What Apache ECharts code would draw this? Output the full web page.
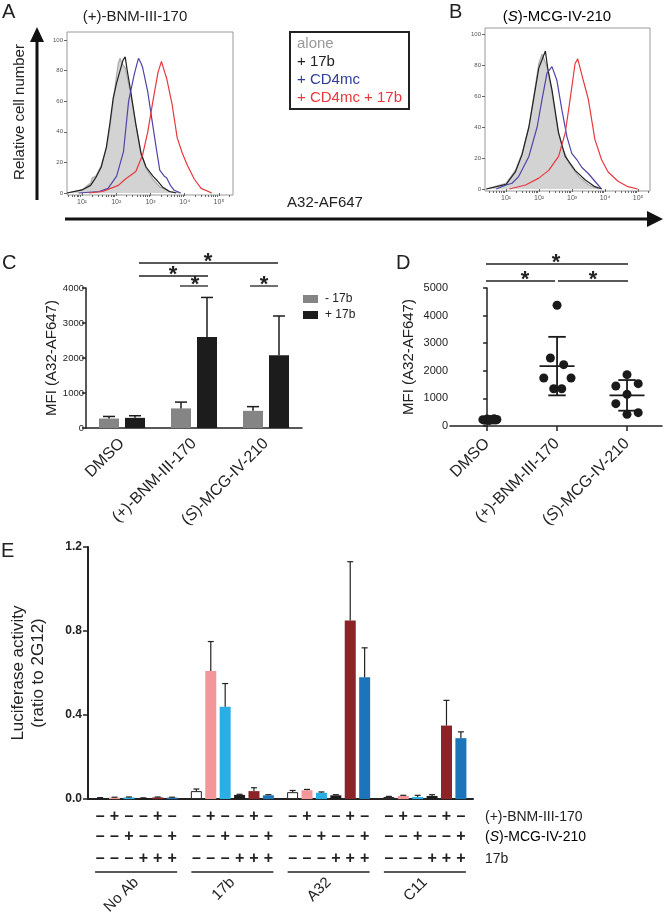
<!DOCTYPE html>
<html><head><meta charset="utf-8">
<script src="https://cdn.jsdelivr.net/npm/echarts@6/dist/echarts.min.js"></script>
<style>html,body{margin:0;padding:0;background:#fff}#c{width:665px;height:917px}</style>
</head><body><div id="c"></div>
<script>
// ---------------- DATA ----------------
// Panel A/B histograms: [log10(A32-AF647), relative cell number %]
const histA_alone = [[0.56,0],[1.0,2],[1.25,6.5],[1.3,10],[1.4,11],[1.56,18],[1.71,29],[1.81,42],[1.91,60],[2.01,77],[2.06,85],[2.11,88],[2.18,84],[2.26,82],[2.41,66],[2.57,45],[2.72,27],[2.87,16],[3.07,9],[3.27,4],[3.58,1],[3.88,0]];
const histA_17b = [[0.56,0],[1.0,2],[1.25,5],[1.4,10],[1.56,17],[1.71,30],[1.81,45],[1.91,62],[2.01,72],[2.11,80],[2.2,87],[2.26,89],[2.32,80],[2.41,68],[2.57,45],[2.72,26],[2.87,17],[3.07,11],[3.2,8],[3.35,4],[3.55,1],[3.75,0]];
const histA_cd4 = [[0.9,0],[1.5,1],[1.76,3],[2.01,11],[2.21,27],[2.36,60],[2.52,77],[2.6,84],[2.65,88],[2.72,85],[2.77,82],[2.92,66],[3.02,51],[3.17,29],[3.27,15],[3.4,11],[3.47,10],[3.58,5],[3.68,2],[3.88,0]];
const histA_cd4_17b = [[1.2,0],[1.6,1],[2.06,5],[2.26,9],[2.57,14],[2.77,25],[2.92,40],[3.07,60],[3.22,79],[3.32,86],[3.4,80],[3.47,75],[3.63,58],[3.78,36],[3.93,26],[4.08,18],[4.28,9],[4.48,3],[4.79,0]];
const histB_alone = [[0.4,0],[1.0,3.7],[1.28,12],[1.48,23],[1.69,40],[1.84,60],[1.99,81],[2.09,87],[2.14,88],[2.24,79],[2.39,62],[2.55,40],[2.7,27],[2.9,17],[3.2,8],[3.5,2.6],[3.8,0]];
const histB_17b = [[0.4,0],[1.0,3],[1.28,11],[1.48,22],[1.69,40],[1.84,59],[1.99,78],[2.1,84],[2.19,89],[2.26,78],[2.39,64],[2.59,36],[2.79,21],[3.09,12],[3.39,6],[3.69,1.5],[3.9,0]];
const histB_cd4 = [[0.7,0],[1.0,2.6],[1.18,3.7],[1.38,8],[1.69,21],[1.94,40],[2.09,58],[2.24,75],[2.39,79],[2.44,80],[2.54,70],[2.69,51],[2.84,34],[2.99,23],[3.14,19],[3.29,14],[3.49,10],[3.69,5],[3.89,0]];
const histB_cd4_17b = [[1.1,0],[1.59,2.6],[1.99,7],[2.29,12],[2.59,21],[2.79,36],[2.94,58],[3.09,81],[3.17,84],[3.34,70],[3.49,58],[3.69,32],[3.89,19],[4.09,11],[4.39,5],[4.69,1.5],[4.99,0]];
const histTicksY = [0, 20, 40, 60, 80, 100];
const histDecades = [1, 2, 3, 4, 5];

// Panel C: MFI bars (mean, SD)
const cCats = ['DMSO', '(+)-BNM-III-170', '(S)-MCG-IV-210'];
const cMinus17b = [270, 560, 490];
const cMinus17bSD = [60, 180, 120];
const cPlus17b = [290, 2600, 2080];
const cPlus17bSD = [60, 1130, 1120];

// Panel D: individual MFI points (value, horizontal jitter)
const dCats = ['DMSO', '(+)-BNM-III-170', '(S)-MCG-IV-210'];
const dDmso = [230, 210, 250, 200, 240, 220, 260, 215, 235];
const dDmsoJit = [-0.06, -0.03, 0.0, 0.03, 0.05, 0.08, 0.1, 0.12, 0.14];
const dBnm = [4373, 2464, 2223, 1740, 1740, 1350, 1350];
const dBnmJit = [0, -0.095, 0.095, -0.19, 0.2, -0.048, 0.067];
const dMcg = [1860, 1450, 1534, 1148, 809, 423, 483];
const dMcgJit = [0, -0.16, 0.16, 0, -0.16, 0, 0.16];
const dMean = [230, 2170, 1110];
const dSD = [20, 1060, 555];

// Panel E: luciferase activity (mean, SD)
const eGroups = ['No Ab', '17b', 'A32', 'C11'];
const eNone = [0.005, 0.038, 0.033, 0.010];
const eBnm = [0.007, 0.61, 0.042, 0.015];
const eMcg = [0.008, 0.44, 0.030, 0.010];
const e17b = [0.005, 0.020, 0.018, 0.015];
const eBnm17b = [0.008, 0.038, 0.85, 0.35];
const eMcg17b = [0.007, 0.018, 0.58, 0.29];
const eNoneSD = [0.002, 0.010, 0.008, 0.003];
const eBnmSD = [0.002, 0.14, 0.004, 0.003];
const eMcgSD = [0.002, 0.11, 0.004, 0.008];
const e17bSD = [0.001, 0.003, 0.003, 0.006];
const eBnm17bSD = [0.002, 0.016, 0.28, 0.12];
const eMcg17bSD = [0.002, 0.003, 0.14, 0.03];
const eRowBnm = ['–', '+', '–', '–', '+', '–'];
const eRowMcg = ['–', '–', '+', '–', '–', '+'];
const eRow17b = ['–', '–', '–', '+', '+', '+'];

// ---------------- CHART ----------------
const FONT = '"Liberation Sans", Arial, Helvetica, sans-serif';
const chart = echarts.init(document.getElementById('c'), null, {renderer: 'canvas', width: 665, height: 917});
const sup = {1: '¹', 2: '²', 3: '³', 4: '⁴', 5: '⁵'};
function minorLog(min, max) {
  const out = [];
  for (let d = 0; d <= 5; d++) for (let k = 2; k <= 9; k++) {
    const v = d + Math.log10(k);
    if (v > min && v < max) out.push(v);
  }
  return out;
}
const AX = {min: 0.56, max: 5.41};
const BX = {min: 0.36, max: 5.36};

function histX(gi, r) {
  return [{
    type: 'value', gridIndex: gi, min: r.min, max: r.max, position: 'bottom',
    axisLine: {show: false}, splitLine: {show: false},
    axisTick: {show: true, length: 3, customValues: histDecades, lineStyle: {color: '#666', width: 1}},
    axisLabel: {customValues: histDecades, formatter: v => '10' + sup[v], fontSize: 7, color: '#555', margin: 4, fontFamily: FONT}
  }, {
    type: 'value', gridIndex: gi, min: r.min, max: r.max, position: 'bottom',
    axisLine: {show: false}, splitLine: {show: false},
    axisTick: {show: true, length: 2, customValues: minorLog(r.min, r.max), lineStyle: {color: '#666', width: 1}},
    axisLabel: {show: false}
  }];
}
function histY(gi, min, max) {
  return {
    type: 'value', gridIndex: gi, min, max,
    axisLine: {show: false}, splitLine: {show: false},
    axisTick: {show: true, length: 3, customValues: histTicksY, lineStyle: {color: '#666'}},
    axisLabel: {customValues: histTicksY, fontSize: 6, color: '#555', margin: 4, fontFamily: FONT}
  };
}
function hist(name, data, color, xi, yi, area) {
  const s = {type: 'line', name, xAxisIndex: xi, yAxisIndex: yi, data, symbol: 'none', showSymbol: false,
    lineStyle: {color, width: 1.2}, itemStyle: {color}, z: area ? 1 : 2, silent: true};
  if (area) s.areaStyle = {color: '#d3d3d3', opacity: 1};
  return s;
}
const catRich = {
  n: {fontSize: 16, fontFamily: FONT, color: '#222'},
  i: {fontSize: 16, fontFamily: FONT, fontStyle: 'italic', color: '#222'}
};
function catFmt(v) {
  if (v === '(S)-MCG-IV-210') return '{n|(}{i|S}{n|)-MCG-IV-210}';
  return '{n|' + v + '}';
}
const blackAxis = {lineStyle: {color: '#222', width: 1.5}};

// C error data
const cErr = [];
cCats.forEach((c, i) => { cErr.push([i, 0, cMinus17b[i], cMinus17bSD[i]]); cErr.push([i, 1, cPlus17b[i], cPlus17bSD[i]]); });
// D scatter data
const dPts = [];
dDmso.forEach((v, i) => dPts.push([0 + dDmsoJit[i], v]));
dBnm.forEach((v, i) => dPts.push([1 + dBnmJit[i], v]));
dMcg.forEach((v, i) => dPts.push([2 + dMcgJit[i], v]));
const dStats = [[1, dMean[1], dSD[1]], [2, dMean[2], dSD[2]]];
// E
const eSeries = [eNone, eBnm, eMcg, e17b, eBnm17b, eMcg17b];
const eSDs = [eNoneSD, eBnmSD, eMcgSD, e17bSD, eBnm17bSD, eMcg17bSD];
const eColors = ['#ffffff', '#f3969a', '#2aaee3', '#1c1c1c', '#8b2328', '#1c74bb'];
const eErr = [];
eSeries.forEach((s, k) => s.forEach((v, g) => eErr.push([g, k, v, eSDs[k][g]])));
const eRows = [];
eGroups.forEach((g, gi) => { for (let b = 0; b < 6; b++) eRows.push([gi, b]); });

const series = [
  hist('alone', histA_alone, '#aaaaaa', 0, 0, true),
  hist('+ 17b', histA_17b, '#222222', 0, 0),
  hist('+ CD4mc', histA_cd4, '#4f44a6', 0, 0),
  hist('+ CD4mc + 17b', histA_cd4_17b, '#e8383e', 0, 0),
  hist('alone', histB_alone, '#aaaaaa', 2, 1, true),
  hist('+ 17b', histB_17b, '#222222', 2, 1),
  hist('+ CD4mc', histB_cd4, '#4f44a6', 2, 1),
  hist('+ CD4mc + 17b', histB_cd4_17b, '#e8383e', 2, 1),
  {type: 'bar', name: '- 17b', xAxisIndex: 4, yAxisIndex: 2, data: cMinus17b, barWidth: 20, barGap: '30%', itemStyle: {color: '#858585'}},
  {type: 'bar', name: '+ 17b ', xAxisIndex: 4, yAxisIndex: 2, data: cPlus17b, barWidth: 20, barGap: '30%', itemStyle: {color: '#1c1c1c'}},
  {type: 'custom', xAxisIndex: 4, yAxisIndex: 2, data: cErr, encode: {x: 0, y: 2}, clip: false, z: 3,
    renderItem: (p, api) => {
      const cat = api.value(0), k = api.value(1), m = api.value(2), sd = api.value(3);
      const a = api.coord([cat, m]), b = api.coord([cat, m + sd]);
      const x = a[0] + (k - 0.5) * 26;
      return {type: 'group', children: [
        {type: 'line', shape: {x1: x, y1: a[1], x2: x, y2: b[1]}, style: {stroke: '#1c1c1c', lineWidth: 1.5}},
        {type: 'line', shape: {x1: x - 6, y1: b[1], x2: x + 6, y2: b[1]}, style: {stroke: '#1c1c1c', lineWidth: 1.5}}
      ]};
    }},
  {type: 'scatter', xAxisIndex: 5, yAxisIndex: 3, data: dPts, symbolSize: 9, itemStyle: {color: '#1a1a1a', opacity: 1}, z: 3},
  {type: 'custom', xAxisIndex: 5, yAxisIndex: 3, data: dStats, encode: {x: 0, y: 1}, clip: false, z: 4,
    renderItem: (p, api) => {
      const c = api.value(0), m = api.value(1), sd = api.value(2);
      const pm = api.coord([c, m]), pt = api.coord([c, m + sd]), pb = api.coord([c, m - sd]);
      const wl = api.coord([c - 0.25, m])[0], wr = api.coord([c + 0.25, m])[0];
      const cl = api.coord([c - 0.125, m])[0], cr = api.coord([c + 0.125, m])[0];
      const st = {stroke: '#1a1a1a', lineWidth: 1.8};
      return {type: 'group', children: [
        {type: 'line', shape: {x1: pm[0], y1: pt[1], x2: pm[0], y2: pb[1]}, style: st},
        {type: 'line', shape: {x1: wl, y1: pm[1], x2: wr, y2: pm[1]}, style: st},
        {type: 'line', shape: {x1: cl, y1: pt[1], x2: cr, y2: pt[1]}, style: st},
        {type: 'line', shape: {x1: cl, y1: pb[1], x2: cr, y2: pb[1]}, style: st}
      ]};
    }}
];
eSeries.forEach((s, k) => series.push({
  type: 'bar', xAxisIndex: 6, yAxisIndex: 4, data: s, barWidth: 11, barGap: '31%',
  itemStyle: {color: eColors[k], borderColor: k === 0 ? '#222' : eColors[k], borderWidth: k === 0 ? 1 : 0}
}));
series.push({type: 'custom', xAxisIndex: 6, yAxisIndex: 4, data: eErr, encode: {x: 0, y: 2}, clip: false, z: 4,
  renderItem: (p, api) => {
    const g = api.value(0), k = api.value(1), m = api.value(2), sd = api.value(3);
    const a = api.coord([g, m]), b = api.coord([g, m + sd]);
    const x = a[0] + (k - 2.5) * 14.4;
    return {type: 'group', children: [
      {type: 'line', shape: {x1: x, y1: a[1], x2: x, y2: b[1]}, style: {stroke: '#222', lineWidth: 1.2}},
      {type: 'line', shape: {x1: x - 3, y1: b[1], x2: x + 3, y2: b[1]}, style: {stroke: '#222', lineWidth: 1.2}}
    ]};
  }});
series.push({type: 'custom', xAxisIndex: 6, yAxisIndex: 4, data: eRows, encode: {x: 0, y: 1}, clip: false, z: 4, silent: true,
  renderItem: (p, api) => {
    const g = api.value(0), b = api.value(1);
    const c = api.coord([g, 0]);
    const x = c[0] + (b - 2.5) * 14.4;
    const f = 'bold 16px ' + FONT;
    const ch = [
      {type: 'text', x, y: 817, style: {text: eRowBnm[b], font: f, fill: '#222', align: 'center', verticalAlign: 'middle'}},
      {type: 'text', x, y: 837, style: {text: eRowMcg[b], font: f, fill: '#222', align: 'center', verticalAlign: 'middle'}},
      {type: 'text', x, y: 859, style: {text: eRow17b[b], font: f, fill: '#222', align: 'center', verticalAlign: 'middle'}}
    ];
    if (b === 0) ch.push({type: 'line', shape: {x1: c[0] - 41, y1: 872, x2: c[0] + 41, y2: 872}, style: {stroke: '#222', lineWidth: 1.5}});
    return {type: 'group', children: ch};
  }});

// annotations
function sig(x1, x2, y, xs) {
  return [
    {type: 'line', shape: {x1, y1: y, x2, y2: y}, style: {stroke: '#222', lineWidth: 1.3}},
    {type: 'text', x: xs, y: y - 12, style: {text: '*', font: 'bold 22px ' + FONT, fill: '#222', align: 'center', verticalAlign: 'top'}}
  ];
}
function label(text, x, y, size, color) {
  return {type: 'text', x, y, style: {text, font: size + 'px ' + FONT, fill: color || '#222', align: 'left', verticalAlign: 'top'}};
}
const elements = [
  label('A', 2, 2, 20), label('B', 449, 2, 20), label('C', 2, 253, 20), label('D', 396, 253, 20), label('E', 1, 541, 20),
  {type: 'text', x: 135, y: 17, style: {text: '(+)-BNM-III-170', font: '15px ' + FONT, fill: '#222', align: 'center', verticalAlign: 'middle'}},
  {type: 'text', x: 557, y: 17, style: {text: '{n|(}{i|S}{n|)-MCG-IV-210}', rich: {n: {fontSize: 15, fontFamily: FONT, color: '#222'}, i: {fontSize: 15, fontFamily: FONT, fontStyle: 'italic', color: '#222'}}, align: 'center', verticalAlign: 'middle'}},
  {type: 'line', shape: {x1: 37, y1: 200, x2: 37, y2: 40}, style: {stroke: '#111', lineWidth: 3}},
  {type: 'polygon', shape: {points: [[30, 42], [44, 42], [37, 27]]}, style: {fill: '#111'}},
  {type: 'text', x: 20, y: 112, rotation: Math.PI / 2, style: {text: 'Relative cell number', font: '15px ' + FONT, fill: '#222', align: 'center', verticalAlign: 'middle'}},
  {type: 'line', shape: {x1: 65, y1: 219, x2: 650, y2: 219}, style: {stroke: '#111', lineWidth: 3}},
  {type: 'polygon', shape: {points: [[647, 211], [647, 227], [663, 219]]}, style: {fill: '#111'}},
  {type: 'text', x: 325, y: 203, style: {text: 'A32-AF647', font: '15px ' + FONT, fill: '#222', align: 'center', verticalAlign: 'middle'}},
  {type: 'rect', shape: {x: 290, y: 32, width: 119, height: 77}, style: {fill: '#fff', stroke: '#222', lineWidth: 2}},
  label('alone', 297, 36, 15, '#999'),
  label('+ 17b', 297, 54, 15),
  label('+ CD4mc', 297, 72, 15, '#2f3d96'),
  label('+ CD4mc + 17b', 297, 90, 15, '#e8383e'),
  // C legend
  {type: 'rect', shape: {x: 303, y: 295, width: 15, height: 8}, style: {fill: '#858585'}},
  {type: 'rect', shape: {x: 303, y: 311, width: 15, height: 8}, style: {fill: '#1c1c1c'}},
  {type: 'text', x: 325, y: 299, style: {text: '- 17b', font: '12px ' + FONT, fill: '#222', verticalAlign: 'middle'}},
  {type: 'text', x: 325, y: 315, style: {text: '+ 17b', font: '12px ' + FONT, fill: '#222', verticalAlign: 'middle'}},
  ...sig(139, 278, 263, 208), ...sig(139, 208, 276, 173), ...sig(180, 208, 286, 195), ...sig(250, 278, 286, 264),
  ...sig(486, 628, 264, 556), ...sig(486, 555, 281, 525), ...sig(558, 628, 281, 593),
  // E row labels
  {type: 'text', x: 485, y: 817, style: {text: '(+)-BNM-III-170', font: '14px ' + FONT, fill: '#222', verticalAlign: 'middle'}},
  {type: 'text', x: 485, y: 837, style: {text: '{n|(}{i|S}{n|)-MCG-IV-210}', rich: {n: {fontSize: 14, fontFamily: FONT, color: '#222'}, i: {fontSize: 14, fontFamily: FONT, fontStyle: 'italic', color: '#222'}}, verticalAlign: 'middle'}},
  {type: 'text', x: 485, y: 859, style: {text: '17b', font: '14px ' + FONT, fill: '#222', verticalAlign: 'middle'}}
];

const option = {
  animation: false,
  backgroundColor: '#fff',
  textStyle: {fontFamily: FONT},
  grid: [
    {left: 67, top: 32, width: 166, height: 163, show: true, borderColor: '#999', borderWidth: 1, backgroundColor: 'transparent'},
    {left: 485, top: 28, width: 165, height: 163, show: true, borderColor: '#999', borderWidth: 1, backgroundColor: 'transparent'},
    {left: 86, top: 288, width: 216, height: 140},
    {left: 450, top: 288, width: 212, height: 138},
    {left: 87, top: 547, width: 386, height: 255}
  ],
  xAxis: [
    ...histX(0, AX),
    ...histX(1, BX),
    {type: 'category', gridIndex: 2, data: cCats, axisLine: blackAxis,
      axisTick: {alignWithLabel: true, length: 5, lineStyle: {color: '#222', width: 1.5}},
      axisLabel: {rotate: 45, margin: 13, interval: 0, formatter: catFmt, rich: catRich}},
    {type: 'value', gridIndex: 3, min: -0.53, max: 2.5, axisLine: blackAxis, splitLine: {show: false},
      axisTick: {customValues: [0, 1, 2], length: 5, lineStyle: {color: '#222', width: 1.5}},
      axisLabel: {customValues: [0, 1, 2], rotate: 45, margin: 15, formatter: v => catFmt(dCats[v]), rich: catRich}},
    {type: 'category', gridIndex: 4, data: eGroups, axisLine: {lineStyle: {color: '#222', width: 2}},
      axisTick: {alignWithLabel: true, length: 4, lineStyle: {color: '#222', width: 1.5}},
      axisLabel: {rotate: 45, margin: 81, interval: 0, fontSize: 15, color: '#222'}}
  ],
  yAxis: [
    histY(0, -1.3, 105.2),
    histY(1, -1.3, 103.9),
    {type: 'value', gridIndex: 2, min: 0, max: 4000, interval: 1000, axisLine: {show: true, lineStyle: {color: '#222', width: 1.5}},
      axisTick: {show: true, length: 4, lineStyle: {color: '#222', width: 1.5}}, splitLine: {show: false},
      axisLabel: {fontSize: 9.5, color: '#222', margin: 2, formatter: v => String(v)},
      name: 'MFI (A32-AF647)', nameLocation: 'middle', nameGap: 27, nameMoveOverlap: false, nameTextStyle: {fontSize: 15, color: '#222'}},
    {type: 'value', gridIndex: 3, min: 0, max: 5000, interval: 1000, axisLine: {show: true, lineStyle: {color: '#222', width: 1.5}},
      axisTick: {show: true, length: 4, lineStyle: {color: '#222', width: 1.5}}, splitLine: {show: false},
      axisLabel: {fontSize: 11, color: '#222', margin: 2, formatter: v => String(v)},
      name: 'MFI (A32-AF647)', nameLocation: 'middle', nameGap: 34, nameMoveOverlap: false, nameTextStyle: {fontSize: 15, color: '#222'}},
    {type: 'value', gridIndex: 4, min: 0, max: 1.2, interval: 0.4, axisLine: {show: true, lineStyle: {color: '#222', width: 2}},
      axisTick: {show: true, length: 5, lineStyle: {color: '#222', width: 1.5}}, splitLine: {show: false},
      axisLabel: {fontSize: 12, fontWeight: 'bold', color: '#222', margin: 6, formatter: v => v.toFixed(1)},
      name: 'Luciferase activity\n(ratio to 2G12)', nameLocation: 'middle', nameGap: 40, nameMoveOverlap: false,
      nameTextStyle: {fontSize: 17, color: '#222', lineHeight: 20}}
  ],
  series,
  graphic: {elements}
};
chart.setOption(option);
</script></body></html>
